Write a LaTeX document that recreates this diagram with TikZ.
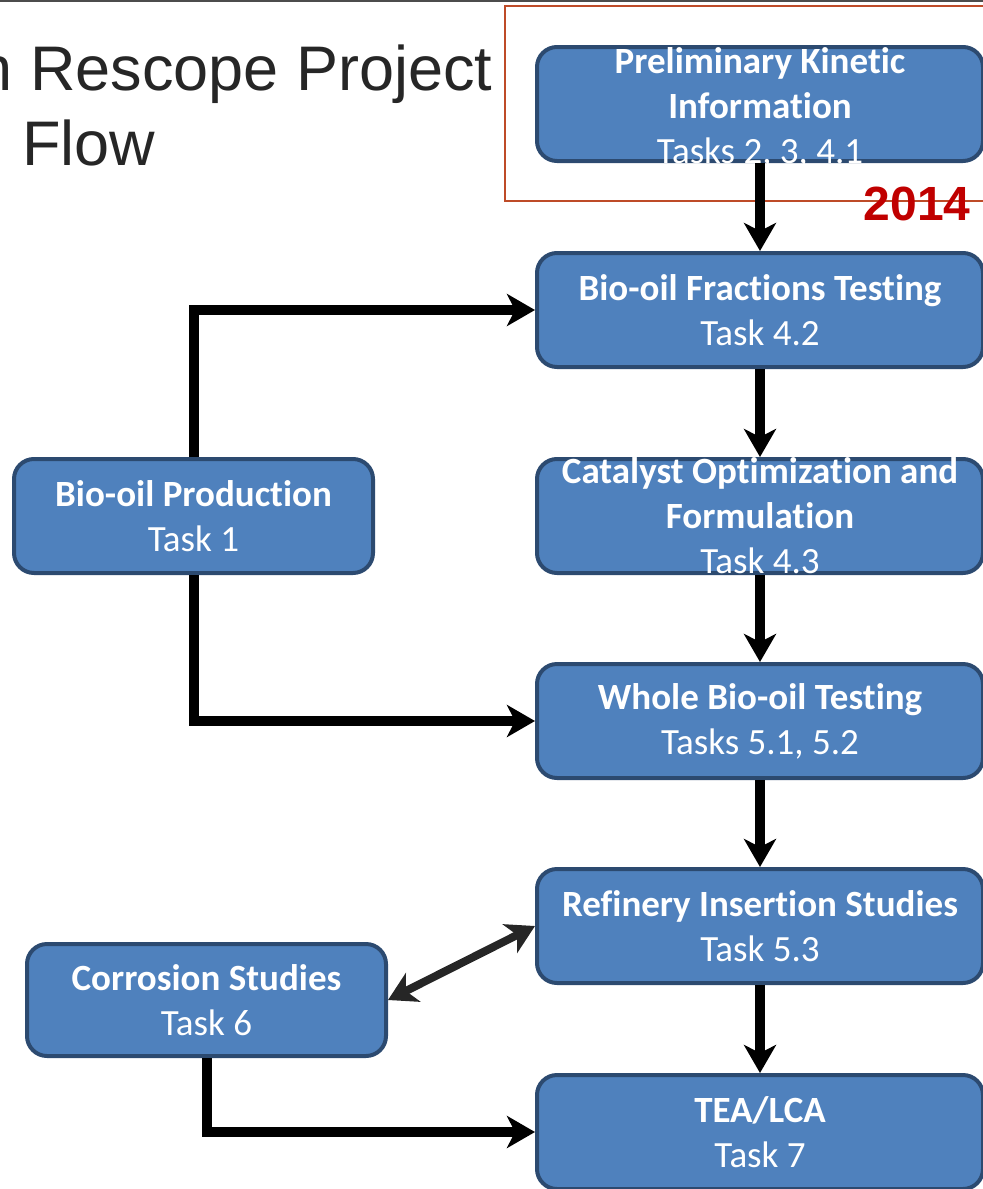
\documentclass[tikz,border=0pt]{standalone}
\usepackage{fontspec}
\setmainfont{Carlito}[Ligatures=NoCommon]
\newfontfamily\arialfont{Liberation Sans}
\usetikzlibrary{arrows.meta, calc, positioning}
\definecolor{boxblue}{RGB}{79,129,189}
\definecolor{boxedge}{RGB}{44,74,112}
\definecolor{yearred}{RGB}{192,0,0}
\definecolor{framered}{RGB}{190,75,40}

\begin{document}
\begin{tikzpicture}[x=0.5pt, y=-0.5pt, >={Stealth[length=14pt, width=16pt, inset=4pt]},
    task/.style={draw=boxedge, line width=2pt, fill=boxblue, rounded corners=10pt,
        minimum width=223pt, minimum height=57pt, inner sep=0pt},
    tasktext/.style={text=white, align=center, inner sep=0pt,
        font=\fontsize{18.5}{22.5}\selectfont},
    flow/.style={line width=5pt, ->}]
    \useasboundingbox (0,0) rectangle (983,1189);

    % Slide header
    \draw[line width=1pt, black!70] (0,1) -- (983,1);
    \node[anchor=base east, inner sep=0pt, text=black!85,
        font=\arialfont\fontsize{31.5}{37.5}\selectfont] (title) at (493,90) {n Rescope Project};
    \node[anchor=base west, inner sep=0pt, text=black!85,
        font=\arialfont\fontsize{31.5}{37.5}\selectfont] (title2) at (22,165) {Flow};

    % 2014 frame
    \draw[line width=0.8pt, framered] (505,6) rectangle (995,201);

    % Main column
    \node[task, label={[tasktext, yshift=-2pt]center:{\textbf{Preliminary Kinetic}\\\textbf{Information}\\Tasks 2, 3, 4.1}}] (prelim) at (760,104) {};
    \node[task, label={[tasktext]center:{\textbf{Bio-oil Fractions Testing}\\Task 4.2}}] (fractions) at (760,310) {};
    \node[task, label={[tasktext]center:{\textbf{Catalyst Optimization and}\\\textbf{Formulation}\\Task 4.3}}] (catalyst) at (760,516) {};
    \node[task, label={[tasktext]center:{\textbf{Whole Bio-oil Testing}\\Tasks 5.1, 5.2}}] (whole) at (760,721) {};
    \node[task, label={[tasktext]center:{\textbf{Refinery Insertion Studies}\\Task 5.3}}] (refinery) at (760,926) {};
    \node[task, label={[tasktext]center:{\textbf{TEA/LCA}\\Task 7}}] (tea) at (760,1132) {};

    % Side boxes
    \node[task, minimum width=179.5pt, label={[tasktext]center:{\textbf{Bio-oil Production}\\Task 1}}] (prod) at (193.5,516) {};
    \node[task, minimum width=179.5pt, minimum height=56pt, label={[tasktext]center:{\textbf{Corrosion Studies}\\Task 6}}] (corr) at (206.5,1000) {};

    % Arrows
    \draw[flow] (prelim.south) -- (fractions.north);
    \draw[flow] (fractions.south) -- (catalyst.north);
    \draw[flow] (catalyst.south) -- (whole.north);
    \draw[flow] (whole.south) -- (refinery.north);
    \draw[flow] (refinery.south) -- (tea.north);
    \draw[flow] (prod.north) |- (fractions.west);
    \draw[flow] (prod.south) |- (whole.west);
    \draw[flow] (corr.south) |- (tea.west);
    \draw[line width=4pt, black!85, <->] (corr.east) -- (refinery.west);

    \node[anchor=base east, inner sep=0pt, text=yearred,
        font=\arialfont\bfseries\fontsize{24}{28}\selectfont] (year) at (971,220) {2014};
\end{tikzpicture}
\end{document}
